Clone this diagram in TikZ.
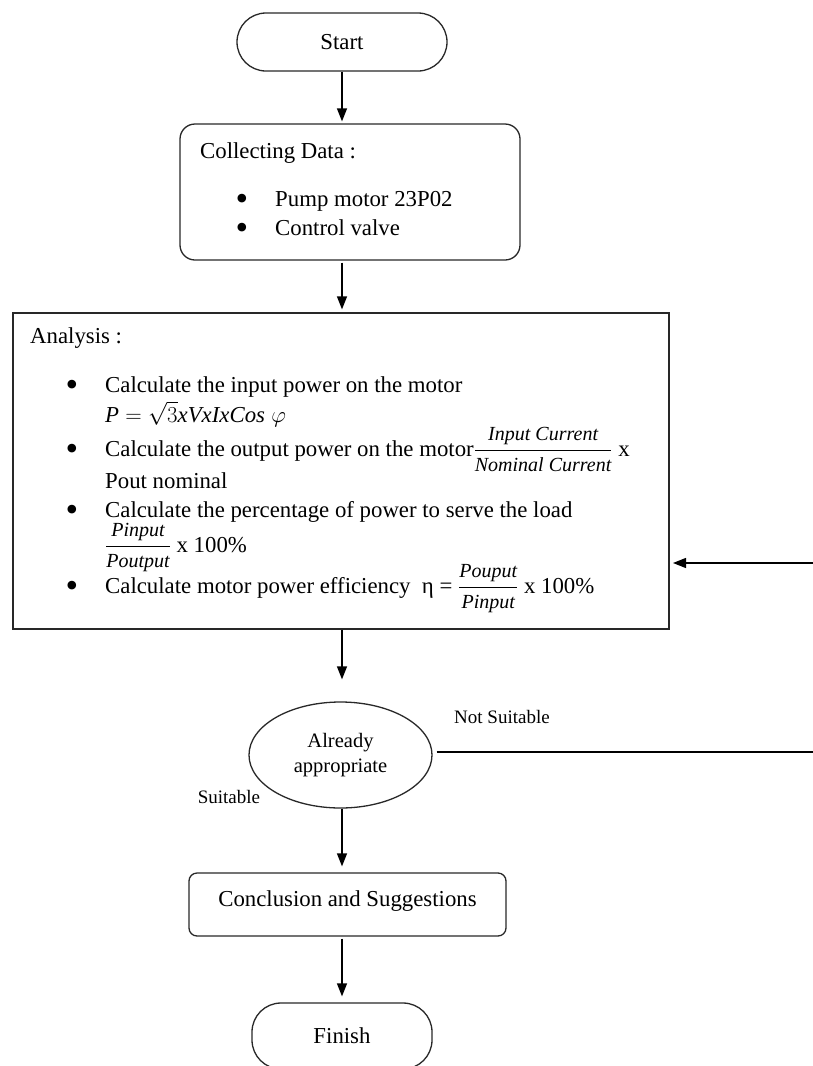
\documentclass[tikz,border=0pt]{standalone}
\usepackage{fix-cm}
\usepackage{amsmath}
\usepackage{fontspec}
\setmainfont{Liberation Serif}
\usetikzlibrary{shapes.geometric,arrows.meta,calc}
\newcommand{\myfr}[2]{$\dfrac{\hbox{\fontsize{20}{22}\selectfont\itshape #1}}{\hbox{\fontsize{20}{22}\selectfont\itshape #2}}$}
\definecolor{edgecol}{RGB}{40,40,40}
\begin{document}
\begin{tikzpicture}[x=1pt,y=-1pt,
  font=\fontsize{22.8}{27}\selectfont,
  outline/.style={draw=edgecol, line width=1.3pt, inner sep=0pt},
  term/.style={outline, rounded corners=29pt, minimum height=58pt},
  roundbox/.style={outline, rounded corners=15pt},
  plainbox/.style={outline},
  decision/.style={outline, ellipse, align=center, font=\fontsize{20.5}{25}\selectfont},
  txt/.style={anchor=base west, inner sep=0pt},
  bul/.style={anchor=base, inner sep=0pt, font=\fontsize{36}{36}\selectfont},
  lbl/.style={inner sep=0pt, font=\fontsize{19}{22}\selectfont},
  flow/.style={line width=1.3pt, draw=black, -{Triangle[length=13pt,width=10pt]}}
]
\useasboundingbox[fill=white] (0,0) rectangle (812,1066);

% Start / Finish
\node[term, minimum width=210pt] (start) at (342,42) {Start};

% Collecting data
\node[roundbox, minimum width=340pt, minimum height=136pt] (collect) at (350,192) {};
\node[txt] (cdhead) at (200,158) {Collecting Data :};
\node[bul] (cdb1) at (242,210) {•};
\node[txt] (cd1) at (275,206) {Pump motor 23P02};
\node[bul] (cdb2) at (242,239) {•};
\node[txt] (cd2) at (275,235) {Control valve};

% Analysis
\node[plainbox, minimum width=656pt, minimum height=316pt] (analysis) at (341,471) {};
\node[txt] (an0) at (30,343) {Analysis :};
\node[bul] (anb1) at (72,396) {•};
\node[txt] (an1) at (105,392) {Calculate the input power on the motor};
\node[txt] (an2) at (105,422) {$\mathit{P} = \sqrt{3}\mathit{xVxIxCos}\;\varphi$};
\node[bul] (anb2) at (72,460) {•};
\node[txt] (an3) at (105,456) {Calculate the output power on the motor\myfr{Input Current}{Nominal Current} x};
\node[txt] (an4) at (105,488) {Pout nominal};
\node[bul] (anb3) at (72,521) {•};
\node[txt] (an5) at (105,517) {Calculate the percentage of power to serve the load};
\node[txt] (an6) at (105,552) {\myfr{Pinput}{Poutput} x 100\%};
\node[bul] (anb4) at (72,597) {•};
\node[txt] (an7) at (105,593) {Calculate motor power efficiency\ \ η = \myfr{Pouput}{Pinput} x 100\%};

% Decision
\node[decision, minimum width=183pt, minimum height=106pt] (dec) at (340.5,755) {Already\\appropriate};
\node[lbl] (ns) at (502,717) {Not Suitable};
\node[lbl] (suit) at (229,797) {Suitable};

% Conclusion
\node[outline, rounded corners=8pt, minimum width=317pt, minimum height=63pt, text depth=11pt] (concl) at (347.5,904.5) {Conclusion and Suggestions};

% Finish
\node[term, minimum width=180pt, minimum height=66pt] (finish) at (342,1036) {Finish};

% Connectors
\coordinate (edge) at (818,755);
\coordinate (loopin) at (669,563);
\draw[flow, shorten >=2pt] (start.south) -- (start.south |- collect.north);
\draw[flow, shorten >=3pt, shorten <=2pt] (collect.south -| start.south) -- (analysis.north -| start.south);
\draw[flow, shorten >=22pt] (analysis.south -| start.south) -- (dec.north -| start.south);
\draw[flow, shorten >=6pt] (dec.south -| start.south) -- (concl.north -| start.south);
\draw[flow, shorten >=6pt, shorten <=2pt] (concl.south -| start.south) -- (finish.north);
\draw[flow, shorten >=4pt] ([xshift=4pt,yshift=3pt]dec.east) -- ([yshift=3pt]dec.east -| edge) -- (edge |- loopin) -- (loopin);
\end{tikzpicture}
\end{document}
